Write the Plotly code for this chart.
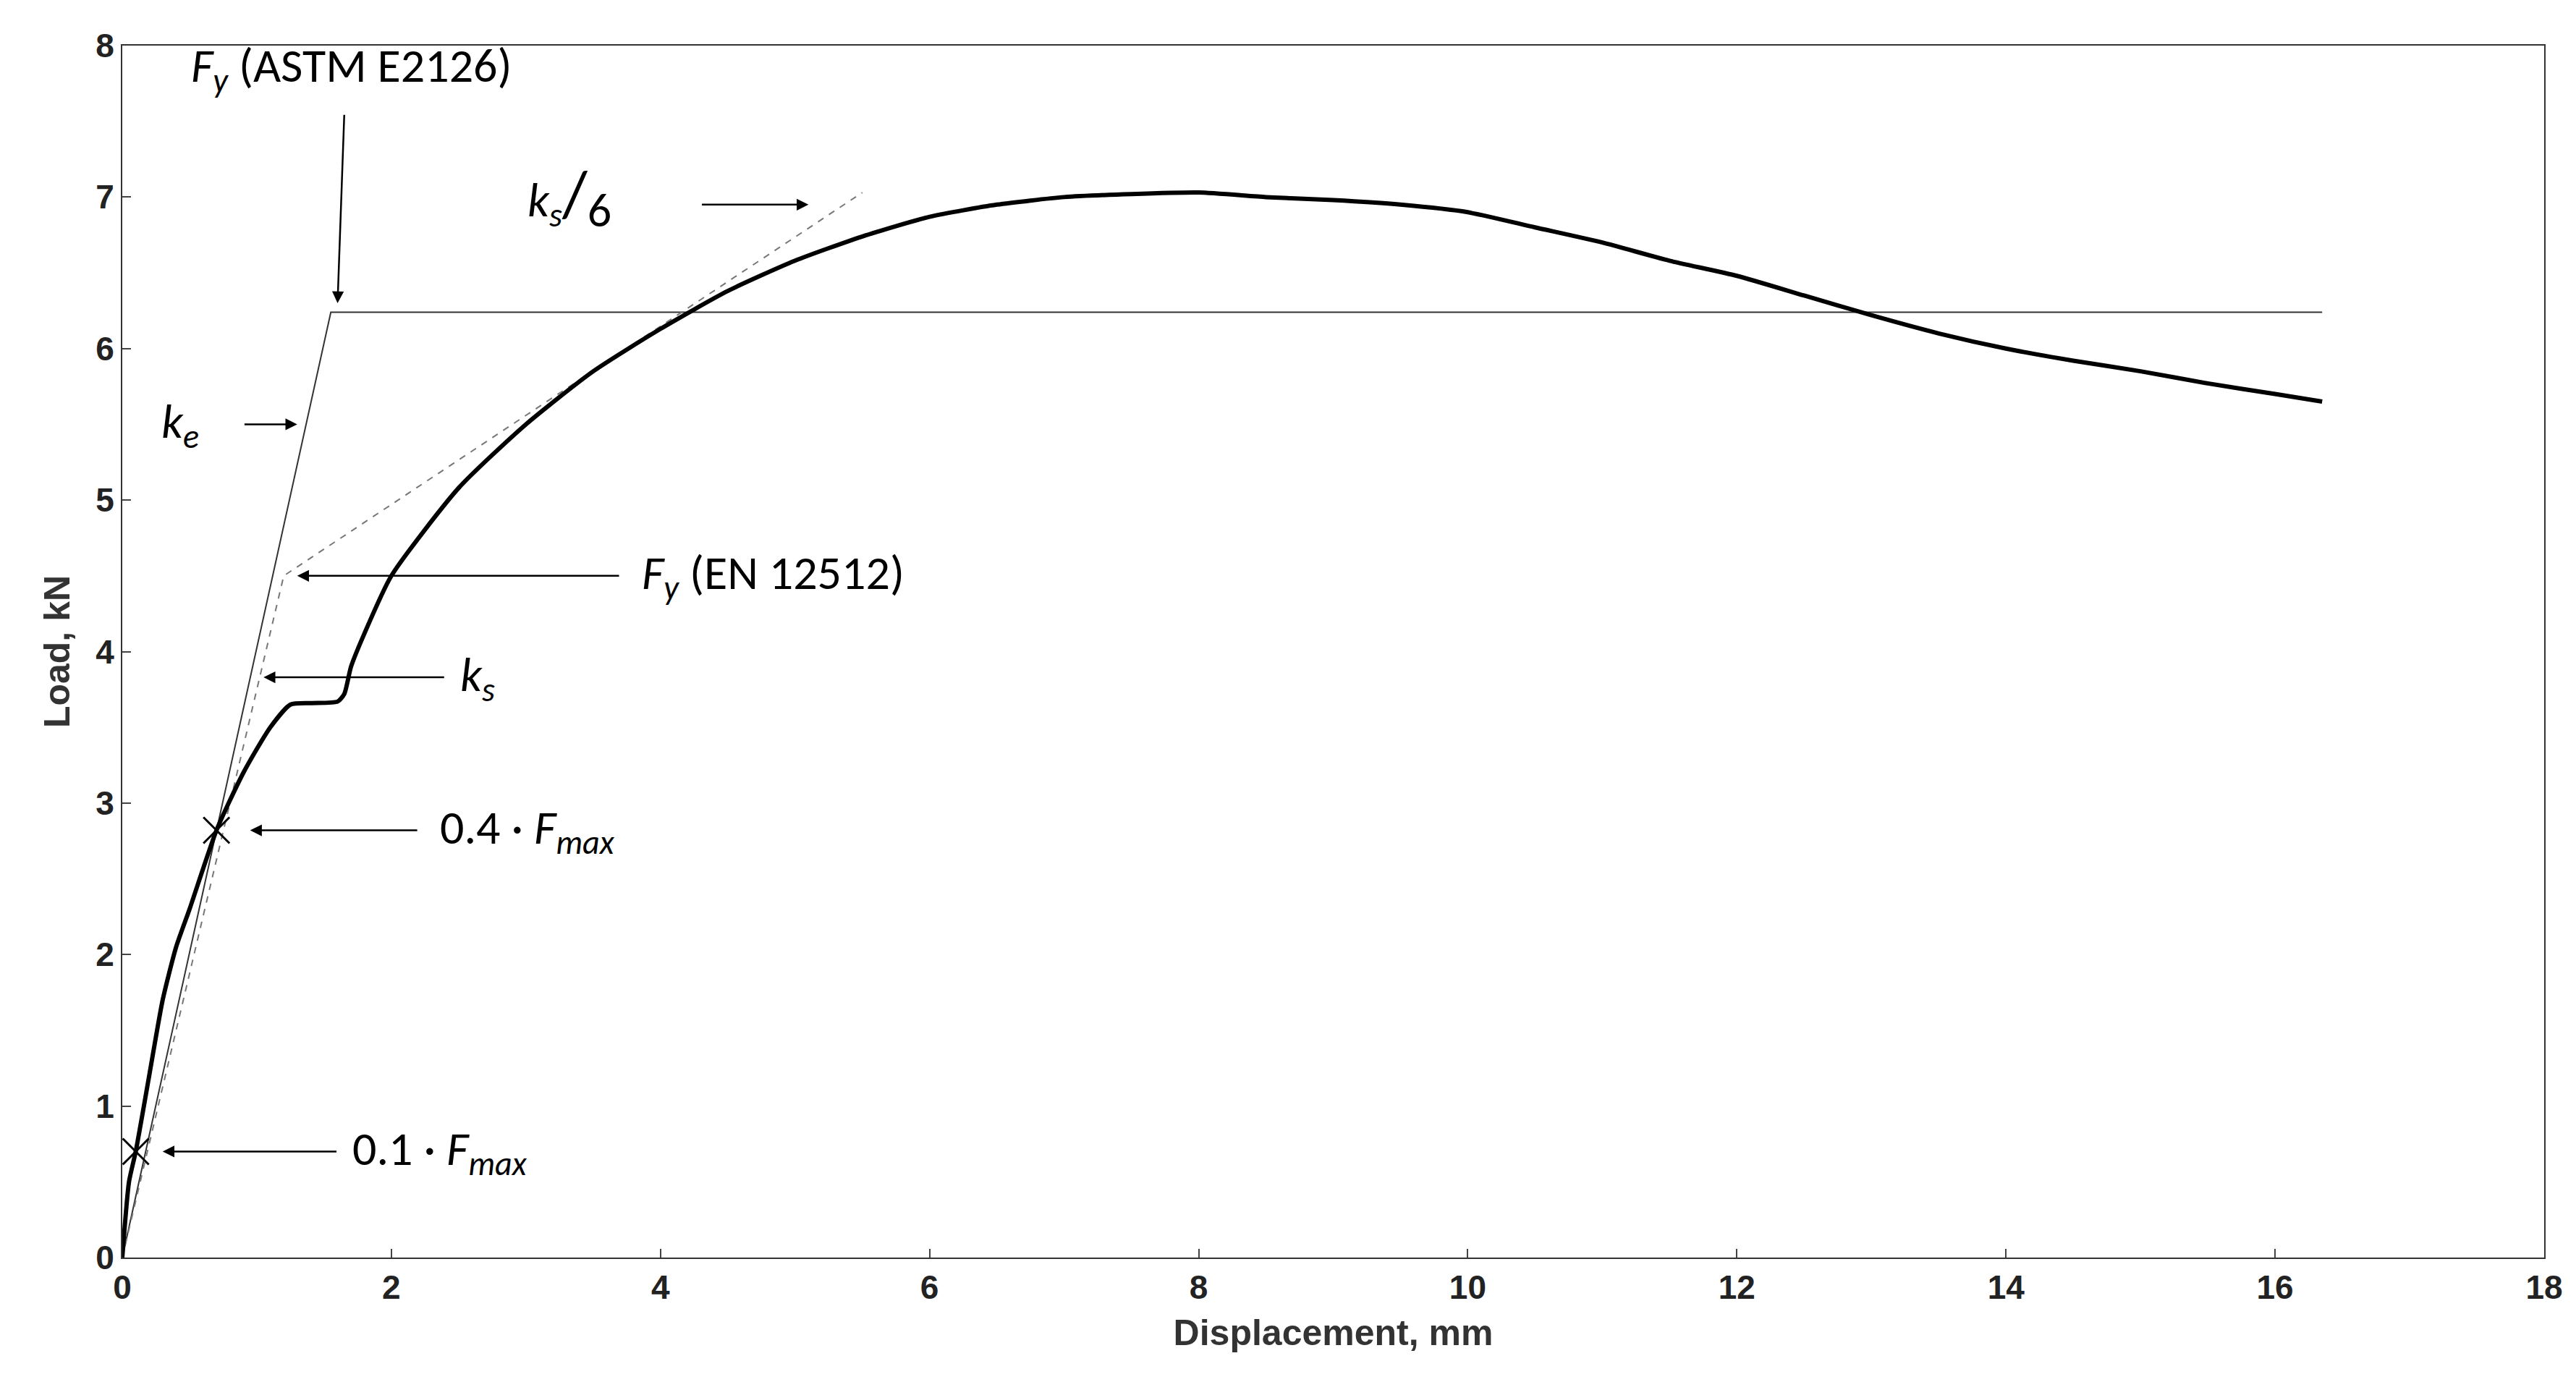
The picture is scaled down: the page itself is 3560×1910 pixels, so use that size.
import plotly.graph_objects as go

disp = [0,0.05,0.1,0.2,0.3,0.4,0.5,0.7,0.9,1.1,1.25,1.4,1.6,1.65,1.7,1.8,2,2.5,3,3.5,4,4.5,5,5.5,6,6.5,7,7.5,8,8.5,9,9.5,10,10.5,11,11.5,12,12.5,13,13.5,14,14.5,15,15.5,16,16.35]
load = [0,0.5,0.7,1.2,1.7,2.05,2.3,2.82,3.2,3.5,3.65,3.66,3.67,3.72,3.9,4.12,4.5,5.08,5.5,5.85,6.13,6.38,6.58,6.74,6.87,6.95,7.0,7.02,7.03,7.0,6.98,6.95,6.9,6.8,6.7,6.58,6.48,6.35,6.22,6.1,6.0,5.92,5.85,5.77,5.7,5.65]
ke_x = [0,1.55,16.35]; ke_y = [0,6.24,6.24]
ks_x = [0,1.2,5.5]; ks_y = [0,4.5,7.03]
mk_x = [0.1,0.7]; mk_y = [0.7,2.82]

fig = go.Figure()
fig.add_trace(go.Scatter(x=ke_x, y=ke_y, mode='lines', line=dict(color='#333', width=2)))
fig.add_trace(go.Scatter(x=ks_x, y=ks_y, mode='lines', line=dict(color='#777', width=2, dash='dash')))
fig.add_trace(go.Scatter(x=disp, y=load, mode='lines', line=dict(color='black', width=6, shape='spline', smoothing=0.6)))
fig.add_trace(go.Scatter(x=mk_x, y=mk_y, mode='markers', marker=dict(symbol='x-thin', size=36, line=dict(width=3, color='black'))))

F = "Calibri, 'Open Sans', sans-serif"
arrows = [  # tail x, tail y, head x, head y
    (1.65,7.55,1.6,6.3),
    (4.3,6.95,5.1,6.95),
    (0.9,5.5,1.3,5.5),
    (3.7,4.5,1.3,4.5),
    (2.4,3.83,1.05,3.83),
    (2.2,2.82,0.95,2.82),
    (1.6,0.7,0.3,0.7),
]
for tx,ty,hx,hy in arrows:
    fig.add_annotation(x=hx,y=hy,ax=tx,ay=ty,xref='x',yref='y',axref='x',ayref='y',
                       text='',showarrow=True,arrowhead=2,arrowsize=1.3,arrowwidth=2.5,arrowcolor='black')
texts = [
    (0.5,7.85,"<i>F</i><sub><i>y</i></sub> (ASTM E2126)",'left'),
    (3.0,7.0,"<i>k</i><sub><i>s</i></sub><span style='font-size:90px'>/</span><sub><span style='font-size:66px'>6</span></sub>",'left'),
    (0.28,5.5,"<i>k</i><sub><i>e</i></sub>",'left'),
    (3.85,4.5,"<i>F</i><sub><i>y</i></sub> (EN 12512)",'left'),
    (2.5,3.83,"<i>k</i><sub><i>s</i></sub>",'left'),
    (2.35,2.82,"0.4 · <i>F</i><sub><i>max</i></sub>",'left'),
    (1.7,0.7,"0.1 · <i>F</i><sub><i>max</i></sub>",'left'),
]
for x,y,t,a in texts:
    fig.add_annotation(x=x,y=y,xref='x',yref='y',text=t,showarrow=False,xanchor=a,
                       font=dict(size=66,color='black',family=F))

ax = dict(showline=True, linecolor='#333', linewidth=2, mirror=True, ticks='inside', ticklen=12,
          tickwidth=2, showgrid=False, zeroline=False,
          tickfont=dict(size=46, color='#222', family="'Liberation Sans', Arial", weight='bold'))
fig.update_layout(
    width=3560, height=1910, plot_bgcolor='white', paper_bgcolor='white', showlegend=False,
    margin=dict(l=161, r=52, t=55, b=180),
    xaxis=dict(range=[0,18], dtick=2, title=dict(text='<b>Displacement, mm</b>', font=dict(size=50,color='#333',family="'Liberation Sans', Arial"), standoff=20), **ax),
    yaxis=dict(range=[0,8], dtick=1, title=dict(text='<b>Load, kN</b>', font=dict(size=50,color='#333',family="'Liberation Sans', Arial"), standoff=20), **ax),
)
fig.write_html("out.html")
